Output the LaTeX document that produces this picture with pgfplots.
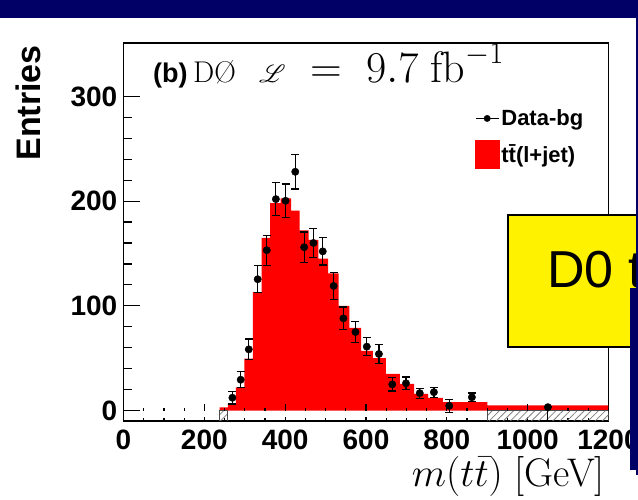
\RequirePackage{fix-cm}
\documentclass[border=0pt]{standalone}
\usepackage{fontspec}
\usepackage{mathrsfs}
\usepackage{pgfplots}
\pgfplotsset{compat=1.18}
\usetikzlibrary{patterns.meta}
\newfontfamily\hv{Liberation Sans}
\definecolor{navy}{RGB}{0,0,102}
\definecolor{rootred}{RGB}{255,0,0}
\begin{document}
\begin{tikzpicture}[x=1pt,y=1pt]
\useasboundingbox (0,0) rectangle (638,500);
\clip (0,0) rectangle (638,500);
\fill[white] (0,0) rectangle (638,500);
\begin{axis}[
  at={(123.5pt,79pt)}, anchor=south west,
  width=485pt, height=378pt, scale only axis,
  xmin=0, xmax=1200, ymin=-10, ymax=351,
  xtick={0,200,...,1200}, minor x tick num=3,
  ytick={0,100,200,300}, minor y tick num=4,
  tick pos=left, tick align=inside,
  major tick length=16pt, minor tick length=8pt,
  xtick style={/pgfplots/major tick length=4pt,/pgfplots/minor tick length=3pt},
  tick style={black, line width=1.2pt},
  axis line style={black, line width=1.6pt},
  /pgf/number format/assume math mode=true,
  /pgf/number format/1000 sep={},
  ticklabel style={font=\hv\bfseries\fontsize{28}{30}\selectfont},
  yticklabel style={inner sep=0pt, xshift=-6pt},
  xticklabel style={inner sep=0pt, yshift=-9pt},
  legend style={draw=none, fill=none, at={(0.7247,0.828)}, anchor=north west,
    font=\hv\bfseries\fontsize{22}{24}\selectfont, row sep=11pt, inner sep=0pt,
    nodes={inner sep=1.5pt}},
  legend cell align=left,
]
% MC histogram (bin left edges, value)
\addplot[const plot, fill=rootred, draw=none, forget plot] coordinates {
 (238,3) (258,7) (278,22) (299,49.5) (320,113) (342,165) (363,198) (389,202.5)
 (415,191) (436,172) (458,163) (482,145) (506,131) (532,100) (559,79) (588,57)
 (617,50) (649,35) (684,25.5) (719,16) (754,12) (790,8) (900,4.8) (1200,4.8)
} \closedcycle;
% hatched boxes
\addplot[forget plot, draw=gray!60!black, line width=0.6pt,
  pattern={Lines[angle=45,distance=5pt,line width=0.8pt]}, pattern color=gray]
  coordinates {(238,-10) (238,0) (258,0) (258,-10)} -- cycle;
\addplot[forget plot, draw=gray!60!black, line width=0.6pt,
  pattern={Lines[angle=45,distance=5pt,line width=0.8pt]}, pattern color=gray]
  coordinates {(900,-10) (900,0) (1200,0) (1200,-10)} -- cycle;
% ticks at y = 0
\pgfplotsinvokeforeach{0,50,...,1200}{\draw[black, line width=1.2pt] (axis cs:#1,0) -- ++(0pt,3pt);}
\pgfplotsinvokeforeach{0,200,...,1200}{\draw[black, line width=1.2pt] (axis cs:#1,0) -- ++(0pt,7pt);}
% data
\addplot[only marks, mark=*, mark size=3.7pt, black, forget plot,
  error bars/.cd, y dir=both, y explicit,
  error bar style={line width=1.2pt, black},
  error mark options={rotate=90, mark size=4pt, line width=1.2pt}]
coordinates {
 (269.5,12.2) +- (0,6)
 (290,29.4) +- (0,7.5)
 (310,58.4) +- (0,10)
 (332,125.4) +- (0,12.8)
 (354.5,153.1) +- (0,14.4)
 (377,201.9) +- (0,16)
 (401,200.3) +- (0,16)
 (425,228) +- (0,16.4)
 (447,156) +- (0,14.4)
 (470,160) +- (0,14)
 (493,152) +- (0,13)
 (520,119) +- (0,12.8)
 (544,88) +- (0,10.9)
 (574,75) +- (0,10)
 (602,61) +- (0,8.8)
 (632,54) +- (0,8.8)
 (665,25) +- (0,6.4)
 (699,26) +- (0,6)
 (733,16.6) +- (0,4.8)
 (768,17.5) +- (0,4.8)
 (806,4.5) +- (0,6.3)
 (862,12.7) +- (0,4.1)
 (1050,3.2) += (0,1) -= (0,12.5)
};
\addlegendimage{legend image code/.code={\draw[black, line width=1pt] (0pt,0pt) -- (23pt,0pt); \fill[black] (11.5pt,0pt) circle (3.2pt);}}
\addlegendentry{Data-bg}
\addlegendimage{legend image code/.code={\fill[rootred] (0pt,-14pt) rectangle (24pt,14pt);}}
\addlegendentry{t\={t}(l+jet)}
\end{axis}
% header text
\node[anchor=base west, inner sep=0pt, font=\hv\bfseries\fontsize{27}{29}\selectfont] at (153,417) {(b)};
\node[anchor=base west, inner sep=0pt, font=\fontsize{30}{32}\selectfont] at (193,417) {DØ};
\node[anchor=base west, inner sep=0pt, font=\fontsize{44}{46}\selectfont] at (259,417) {$\mathscr{L}\;=\;9.7\;\mathrm{fb}^{-1}$};
% axis titles
\node[rotate=90, anchor=base east, inner sep=0pt, font=\hv\bfseries\fontsize{34}{36}\selectfont] at (40,455) {Entries};
\node[anchor=base east, inner sep=0pt, font=\fontsize{40}{42}\selectfont] at (605,13) {$m(t\bar{t})$ [GeV]};
% slide overlay
\draw[line width=2pt, fill=yellow] (507.5,153.3) rectangle (700,285);
\node[anchor=base west, inner sep=0pt, font=\hv\fontsize{52}{54}\selectfont] at (547,212) {D0 tt};
\fill[navy] (0,482) rectangle (638,500);
\fill[navy] (636,25) rectangle (638,482);
\fill[navy] (630,30) rectangle (638,212);
\end{tikzpicture}
\end{document}
